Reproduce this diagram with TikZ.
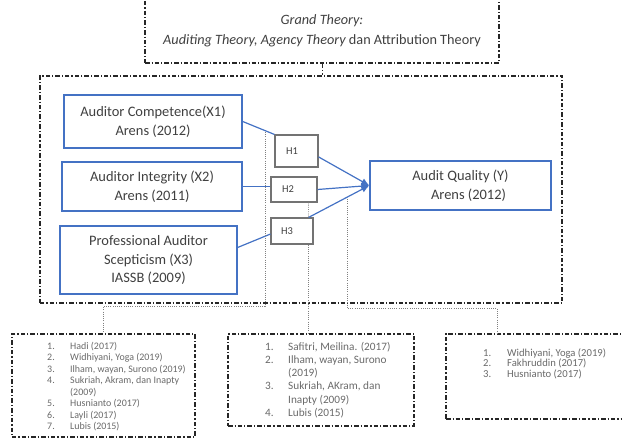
\documentclass[tikz,border=0pt]{standalone}
\usepackage{fontspec}
\setmainfont{Carlito}
\usetikzlibrary{arrows.meta,calc}
\definecolor{wblue}{HTML}{4472C4}
\definecolor{txt}{HTML}{404040}
\definecolor{ltxt}{HTML}{6A6A6A}
\begin{document}
\begin{tikzpicture}[x=1bp,y=-1bp,
  dashdot/.style={draw=black!85, line width=1.2bp, dash pattern=on 4.5bp off 2bp on 1.2bp off 2bp},
  dotline/.style={draw=black!50, line width=0.7bp, dash pattern=on 0.8bp off 1.4bp},
  xbox/.style={draw=wblue, line width=1.4bp, fill=white, inner sep=0pt, align=center, text=txt, font=\fontsize{14.5}{19}\selectfont},
  hbox/.style={draw=black!55, line width=1.1bp, fill=white, inner sep=0pt, text=txt, font=\fontsize{10.5}{12}\selectfont},
  framebox/.style={dashdot, inner sep=0pt},
  listtext/.style={anchor=base west, inner sep=0pt, text=ltxt},
  conn/.style={draw=wblue, line width=1.2bp},
  arr/.style={conn, -{Latex[length=8bp,width=7bp]}},
]
\useasboundingbox (0,0) rectangle (622,439);

% frames
\node[framebox, minimum width=522bp, minimum height=227bp] (M) at (301,189.5) {};
\node[framebox, minimum width=354bp, minimum height=65bp, align=center, text=txt,
      font=\fontsize{14.3}{20}\selectfont] (G) at (322,30.5)
  {\itshape Grand Theory:\\ {\itshape Auditing Theory, Agency Theory} dan Attribution Theory};
\draw[dashdot, line width=1bp] (G.south) -- (G.south |- M.north);

\node[framebox, minimum width=183bp, minimum height=103bp] (L1) at (103.5,385.5) {};
\node[framebox, minimum width=186bp, minimum height=92bp] (L2) at (321,380) {};
\node[framebox, minimum width=184bp, minimum height=85bp] (L3) at (538,376.5) {};

% blue boxes
\node[xbox, minimum width=178bp, minimum height=53bp] (X1) at (153,121.5)
  {Auditor Competence(X1)\\ Arens (2012)};
\node[xbox, minimum width=180bp, minimum height=49bp] (X2) at (152,186.5)
  {Auditor Integrity (X2)\\ Arens (2011)};
\node[xbox, minimum width=177bp, minimum height=68bp] (X3) at (148.5,260)
  {Professional Auditor\\ Scepticism (X3)\\ IASSB (2009)};
\node[xbox, minimum width=181bp, minimum height=49bp] (Y) at (460.5,185.5)
  {Audit Quality (Y)\\ \hspace*{16bp}Arens (2012)};

% hypothesis boxes
\node[hbox, minimum width=43bp, minimum height=32bp] (H1) at (296.5,151) {H1\hspace*{9bp}};
\node[hbox, minimum width=46bp, minimum height=25bp] (H2) at (294,189.5) {H2\hspace*{12bp}};
\node[hbox, minimum width=42bp, minimum height=26bp] (H3) at (292,231) {H3\hspace*{10bp}};

% connectors
\draw[conn] (X1.east) -- (H1.north west);
\draw[conn] (X2.east) -- (X2.east -| H2.west);
\draw[conn] (X3.8) -- (H3.188);
\draw[arr] (H1.-15) -- (Y.west);
\draw[arr] (H2.east) -- (Y.west);
\draw[arr] ($(H3.north east)+(-5,0)$) -- (Y.west);

% dotted links
\coordinate (d1) at (265,132);
\coordinate (d1b) at (265,306);
\draw[dotline] (d1) -- (d1b) -| (L1.north);
\draw[dotline] ($(H2.south east)+(-9,0)$) -- ($(H3.north east)+(-5,0)$);
\coordinate (d2) at ($(H3.south east)+(-5,0)$);
\draw[dotline] (d2) -- (d2 |- L2.north);
\coordinate (d3) at (347,199);
\coordinate (d3b) at (497,308);
\draw[dotline] (d3) |- (d3b) -- (d3b |- L3.north);

% lists
\node[listtext, font=\fontsize{10}{11.6}\selectfont] (T1) at (47,349)
  {\begin{tabular}[t]{@{}p{23bp}@{}l@{}}
   1. & Hadi (2017)\\
   2. & Widhiyani, Yoga (2019)\\
   3. & Ilham, wayan, Surono (2019)\\
   4. & Sukriah, Akram, dan Inapty\\
      & (2009)\\
   5. & Husnianto (2017)\\
   6. & Layli (2017)\\
   7. & Lubis (2015)
   \end{tabular}};
\node[listtext, font=\fontsize{11.3}{13.2}\selectfont] (T2) at (265,350.5)
  {\begin{tabular}[t]{@{}p{23bp}@{}l@{}}
   1. & Safitri, Meilina. (2017)\\
   2. & Ilham, wayan, Surono\\
      & (2019)\\
   3. & Sukriah, AKram, dan\\
      & Inapty (2009)\\
   4. & Lubis (2015)
   \end{tabular}};
\node[listtext, font=\fontsize{10.7}{9.8}\selectfont] (T3) at (483,356)
  {\begin{tabular}[t]{@{}p{24bp}@{}l@{}}
   1. & Widhiyani, Yoga (2019)\\
   2. & Fakhruddin (2017)\\
   3. & Husnianto (2017)
   \end{tabular}};
\end{tikzpicture}
\end{document}
